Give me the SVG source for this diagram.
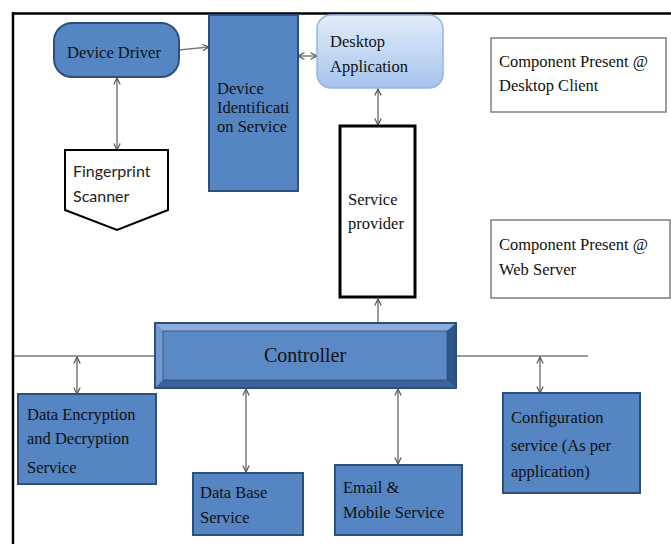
<svg xmlns="http://www.w3.org/2000/svg" width="671" height="544" viewBox="0 0 671 544">
<defs>
<style>
.t{font-family:"Liberation Serif","Times New Roman",serif;font-size:16.5px;fill:#111;}
.s{font-family:Lato,"Noto Sans",sans-serif;font-size:16px;fill:#222;}
.blue{fill:#5585c2;stroke:#2d4f7e;stroke-width:2;}
.wbox{fill:#fff;stroke:#7f7f7f;stroke-width:1.5;}
.conn{stroke:#7a7a7a;stroke-width:1.5;fill:none;}
</style>
<marker id="ah" viewBox="0 0 10 10" refX="9" refY="5" markerWidth="8" markerHeight="8" markerUnits="userSpaceOnUse" orient="auto-start-reverse">
<path d="M1,1 L9,5 L1,9" fill="none" stroke="#555" stroke-width="1.5"/>
</marker>
<linearGradient id="gd" x1="0" y1="0" x2="0" y2="1">
<stop offset="0" stop-color="#e2edf9"/>
<stop offset="1" stop-color="#a6c4ee"/>
</linearGradient>
</defs>
<rect width="671" height="544" fill="#fff"/>
<g id="frame">
<line x1="12" y1="13.5" x2="671" y2="13.5" stroke="#000" stroke-width="2.5"/>
<line x1="13" y1="12" x2="13" y2="544" stroke="#000" stroke-width="2.5"/>
</g>
<g id="connectors">
<line class="conn" x1="179" y1="50" x2="209" y2="47" marker-end="url(#ah)"/>
<line class="conn" x1="298" y1="56" x2="317" y2="56" marker-start="url(#ah)" marker-end="url(#ah)"/>
<line class="conn" x1="117" y1="78" x2="117" y2="150" marker-start="url(#ah)" marker-end="url(#ah)"/>
<line class="conn" x1="378" y1="89" x2="378" y2="125" marker-start="url(#ah)" marker-end="url(#ah)"/>
<line class="conn" x1="378" y1="322" x2="378" y2="299" marker-end="url(#ah)"/>
<line class="conn" x1="14" y1="356" x2="155" y2="356"/>
<line class="conn" x1="456" y1="356" x2="588" y2="356"/>
<line class="conn" x1="77" y1="357" x2="77" y2="394" marker-start="url(#ah)" marker-end="url(#ah)"/>
<line class="conn" x1="246" y1="389" x2="246" y2="472" marker-start="url(#ah)" marker-end="url(#ah)"/>
<line class="conn" x1="398" y1="389" x2="398" y2="464" marker-start="url(#ah)" marker-end="url(#ah)"/>
<line class="conn" x1="540" y1="357" x2="540" y2="393" marker-start="url(#ah)" marker-end="url(#ah)"/>
</g>
<g id="device-driver">
<rect class="blue" x="54" y="23" width="125" height="54" rx="18"/>
<text class="t" x="67" y="58">Device Driver</text>
</g>
<g id="device-identification">
<rect class="blue" x="209" y="15" width="89" height="176"/>
<text class="t" x="217" y="94">Device</text>
<text class="t" x="217" y="113">Identificati</text>
<text class="t" x="217" y="132">on Service</text>
</g>
<g id="desktop-application">
<rect x="317" y="15" width="126" height="73" rx="14" fill="url(#gd)" stroke="#95b5e0" stroke-width="1.5"/>
<text class="t" x="330" y="47">Desktop</text>
<text class="t" x="330" y="72">Application</text>
</g>
<g id="fingerprint-scanner">
<path d="M65,150 H168 V210 L117,230 L65,210 Z" fill="#fff" stroke="#000" stroke-width="2"/>
<text class="s" x="73" y="177">Fingerprint</text>
<text class="s" x="73" y="202">Scanner</text>
</g>
<g id="service-provider">
<rect x="340" y="126" width="75" height="171" fill="#fff" stroke="#000" stroke-width="3"/>
<text class="t" x="348" y="205">Service</text>
<text class="t" x="348" y="229">provider</text>
</g>
<g id="legend-desktop">
<rect class="wbox" x="491" y="38" width="175" height="74"/>
<text class="t" x="499" y="67">Component Present @</text>
<text class="t" x="499" y="91">Desktop Client</text>
</g>
<g id="legend-web">
<rect class="wbox" x="491" y="220" width="179" height="78"/>
<text class="t" x="499" y="250">Component Present @</text>
<text class="t" x="499" y="275">Web Server</text>
</g>
<g id="controller">
<rect x="155" y="323" width="301" height="65" fill="#5585c2" stroke="#2d4f7e" stroke-width="2"/>
<polygon points="156,324 455,324 447,331 163,331" fill="#8badd8"/>
<polygon points="156,324 163,331 163,380 156,387" fill="#7299cf"/>
<polygon points="455,324 455,387 447,380 447,331" fill="#2f5486"/>
<polygon points="156,387 163,380 447,380 455,387" fill="#3b6299"/>
<rect x="163" y="331" width="284" height="49" fill="#5a89c5" stroke="#2d4f7e" stroke-width="0.8"/>
<text class="t" x="305" y="362" text-anchor="middle" style="font-size:20px">Controller</text>
</g>
<g id="data-encryption">
<rect class="blue" x="18" y="394" width="138" height="90"/>
<text class="t" x="27" y="420">Data Encryption</text>
<text class="t" x="27" y="444">and Decryption</text>
<text class="t" x="27" y="473">Service</text>
</g>
<g id="database-service">
<rect class="blue" x="193" y="473" width="110" height="62"/>
<text class="t" x="200" y="498">Data Base</text>
<text class="t" x="200" y="523">Service</text>
</g>
<g id="email-mobile">
<rect class="blue" x="335" y="465" width="127" height="70"/>
<text class="t" x="343" y="493">Email &amp;</text>
<text class="t" x="343" y="518">Mobile Service</text>
</g>
<g id="configuration">
<rect class="blue" x="503" y="393" width="137" height="100"/>
<text class="t" x="511" y="423">Configuration</text>
<text class="t" x="511" y="451">service (As per</text>
<text class="t" x="511" y="477">application)</text>
</g>
</svg>
